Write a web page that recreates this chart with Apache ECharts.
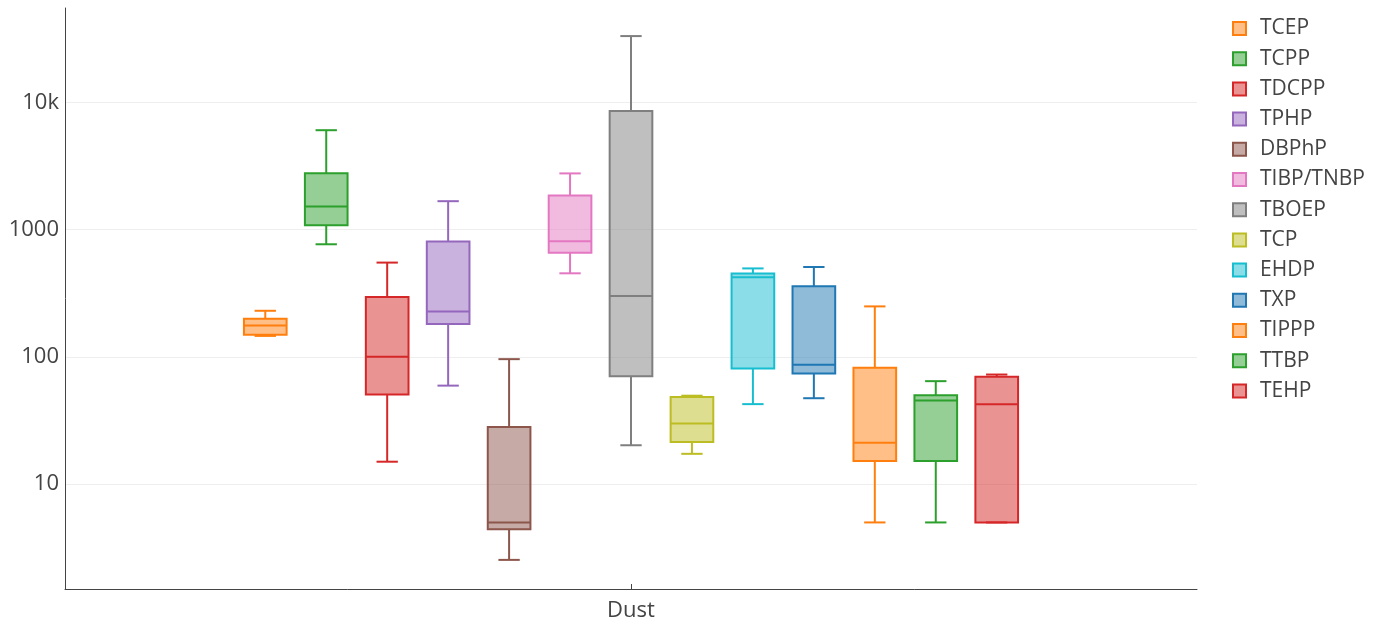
<!DOCTYPE html>
<html><head><meta charset="utf-8">
<script src="https://cdn.jsdelivr.net/npm/echarts@6/dist/echarts.min.js"></script>
<style>html,body{margin:0;padding:0;background:#fff}#c{width:1381px;height:624px}</style>
</head><body><div id="c"></div>
<script>
// ---- data ----
const categories = ['Dust'];
const seriesNames = ['TCEP','TCPP','TDCPP','TPHP','DBPhP','TIBP/TNBP','TBOEP','TCP','EHDP','TXP','TIPPP','TTBP','TEHP'];
// each: [min, q1, median, q3, max]
const TCEP      = [146, 149, 176, 199, 230];
const TCPP      = [766, 1080, 1520, 2770, 6030];
const TDCPP     = [15, 50.5, 100, 295, 550];
const TPHP      = [59.4, 181, 227, 805, 1670];
const DBPhP     = [2.54, 4.43, 5, 28.1, 95.9];
const TIBP_TNBP = [453, 656, 809, 1850, 2760];
const TBOEP     = [20.2, 70.5, 300, 8530, 33100];
const TCP       = [17.3, 21.4, 29.9, 48.4, 49.5];
const EHDP      = [42.5, 80.9, 421, 451, 495];
const TXP       = [47.3, 74, 86.5, 358, 508];
const TIPPP     = [5, 15.2, 21.1, 81.9, 249];
const TTBP      = [5, 15.2, 45.3, 49.9, 64.4];
const TEHP      = [5, 5, 42.5, 69.7, 72.6];
const seriesValues = [TCEP, TCPP, TDCPP, TPHP, DBPhP, TIBP_TNBP, TBOEP, TCP, EHDP, TXP, TIPPP, TTBP, TEHP];
const yTickValues = [10, 100, 1000, 10000];
const yTickLabels = ['10', '100', '1000', '10k'];

// ---- style ----
const palette = ['#ff7f0e','#2ca02c','#d62728','#9467bd','#8c564b','#e377c2','#7f7f7f','#bcbd22','#17becf','#1f77b4','#ff7f0e','#2ca02c','#d62728'];
function rgba(hex, a) {
  const n = parseInt(hex.slice(1), 16);
  return 'rgba(' + (n >> 16 & 255) + ',' + (n >> 8 & 255) + ',' + (n & 255) + ',' + a + ')';
}
const FONT = 'Open Sans';
const TXT = '#444';

const nSeries = seriesNames.length;
function makeRender(idx, color) {
  return function (params, api) {
    const cat = api.value(0);
    const band = api.size([1, 0])[0];
    const slot = band * 0.7 / nSeries;
    const bw = slot * 0.7;
    const cap = bw * 0.5;
    const cx = api.coord([cat, 100])[0] + (idx - (nSeries - 1) / 2) * slot;
    const y = k => api.coord([cat, api.value(k)])[1];
    const yMin = y(1), yQ1 = y(2), yMed = y(3), yQ3 = y(4), yMax = y(5);
    const ls = { stroke: color, lineWidth: 2, fill: null };
    return {
      type: 'group',
      children: [
        { type: 'line', shape: { x1: cx, y1: yQ3, x2: cx, y2: yMax }, style: ls },
        { type: 'line', shape: { x1: cx, y1: yQ1, x2: cx, y2: yMin }, style: ls },
        { type: 'line', shape: { x1: cx - cap / 2, y1: yMax, x2: cx + cap / 2, y2: yMax }, style: ls },
        { type: 'line', shape: { x1: cx - cap / 2, y1: yMin, x2: cx + cap / 2, y2: yMin }, style: ls },
        { type: 'rect', shape: { x: cx - bw / 2, y: yQ3, width: bw, height: yQ1 - yQ3 },
          style: { fill: rgba(color, 0.5), stroke: color, lineWidth: 2 } },
        { type: 'line', shape: { x1: cx - bw / 2, y1: yMed, x2: cx + bw / 2, y2: yMed }, style: ls }
      ]
    };
  };
}

const series = seriesNames.map((name, i) => ({
  name: name,
  type: 'custom',
  coordinateSystem: 'cartesian2d',
  renderItem: makeRender(i, palette[i]),
  encode: { x: 0, y: [1, 2, 3, 4, 5] },
  itemStyle: { color: rgba(palette[i], 0.5), borderColor: palette[i], borderWidth: 2 },
  data: [[categories[0]].concat(seriesValues[i])]
}));

const chart = echarts.init(document.getElementById('c'), null, { renderer: 'canvas' });
chart.setOption({
  animation: false,
  backgroundColor: '#fff',
  textStyle: { fontFamily: FONT },
  grid: { left: 65, right: 184, top: 8, bottom: 35, containLabel: false },
  legend: {
    orient: 'vertical',
    left: 1227,
    top: 13,
    itemWidth: 13,
    itemHeight: 13,
    itemGap: 9.2,
    icon: 'rect',
    textStyle: { fontFamily: FONT, fontSize: 21, color: TXT, lineHeight: 21, padding: [0, 0, 0, 9] },
    data: seriesNames.map((n, i) => ({
      name: n,
      itemStyle: { color: rgba(palette[i], 0.5), borderColor: palette[i], borderWidth: 2 }
    }))
  },
  xAxis: {
    type: 'category',
    data: categories,
    boundaryGap: true,
    axisLine: { show: true, lineStyle: { color: TXT, width: 1 } },
    axisTick: { show: true, inside: true, length: 5, alignWithLabel: true, lineStyle: { color: TXT } },
    axisLabel: { color: TXT, fontSize: 22, fontFamily: FONT, margin: 11 },
    splitLine: { show: false }
  },
  yAxis: {
    type: 'log',
    logBase: 10,
    min: 1.5,
    max: 55000,
    axisLine: { show: true, lineStyle: { color: TXT, width: 1 } },
    axisTick: { show: false },
    axisLabel: {
      color: TXT, fontSize: 22, fontFamily: FONT, margin: 6,
      formatter: function (v) {
        for (let i = 0; i < yTickValues.length; i++) {
          if (Math.abs(v - yTickValues[i]) / yTickValues[i] < 1e-6) return yTickLabels[i];
        }
        return '';
      }
    },
    splitLine: { show: true, showMinLine: false, showMaxLine: false, lineStyle: { color: '#eee', width: 1 } }
  },
  series: series
});
</script>
</body></html>
